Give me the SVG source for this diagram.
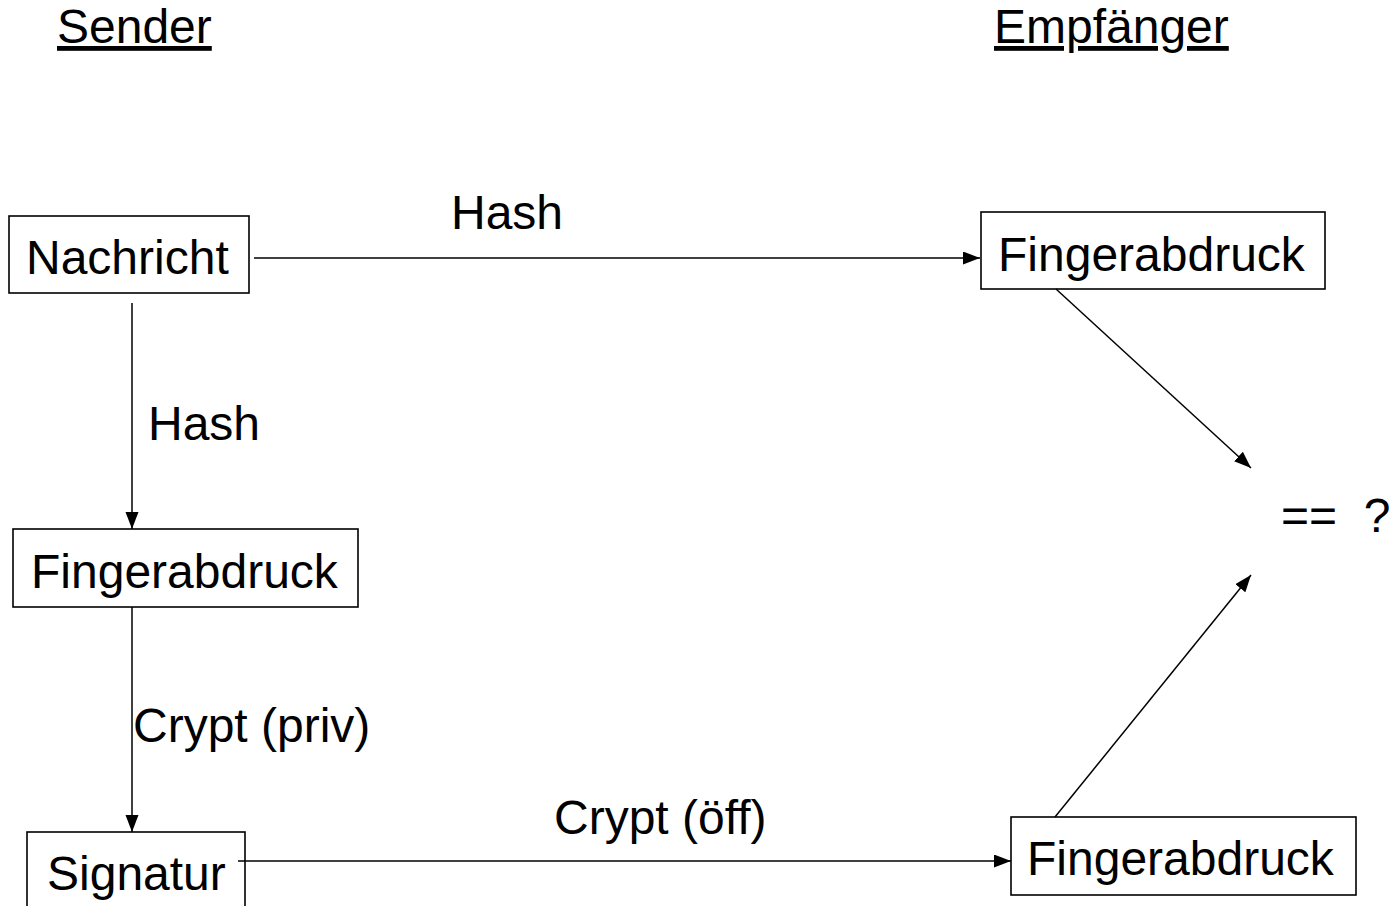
<svg xmlns="http://www.w3.org/2000/svg" width="1389" height="906" viewBox="0 0 1389 906">
<style>
text{font-family:"Liberation Sans",Arial,sans-serif;font-size:48px;fill:#000}
.box{fill:#fff;stroke:#000;stroke-width:1.6}
.edge{stroke:#000;stroke-width:1.5;fill:none;marker-end:url(#ah)}
.ul{text-decoration:underline}
</style>
<defs>
<marker id="ah" markerUnits="userSpaceOnUse" markerWidth="18" markerHeight="14" refX="17" refY="6.5" orient="auto">
<path d="M0,0 L17,6.5 L0,13 Z" fill="#000"/>
</marker>
</defs>
<rect width="1389" height="906" fill="#fff"/>
<text class="ul" x="57" y="43">Sender</text>
<text class="ul" x="994" y="43">Empfänger</text>
<g id="nachricht">
<rect class="box" x="9" y="216" width="240" height="77"/>
<text x="26" y="274">Nachricht</text>
</g>
<g id="fp-recv-top">
<rect class="box" x="981" y="212" width="344" height="77"/>
<text x="998" y="271">Fingerabdruck</text>
</g>
<g id="fp-sender">
<rect class="box" x="13" y="529" width="345" height="78"/>
<text x="31" y="588">Fingerabdruck</text>
</g>
<g id="signatur">
<rect class="box" x="27" y="832" width="218" height="90"/>
<text x="47" y="890">Signatur</text>
</g>
<g id="fp-recv-bottom">
<rect class="box" x="1011" y="817" width="345" height="78"/>
<text x="1027" y="875">Fingerabdruck</text>
</g>
<g id="compare">
<text x="1281" y="532" xml:space="preserve">==  ?</text>
</g>
<g id="connectors">
<line class="edge" x1="254" y1="258" x2="980" y2="258"/>
<line class="edge" x1="132" y1="303" x2="132" y2="529"/>
<line class="edge" x1="132" y1="607" x2="132" y2="832"/>
<line class="edge" x1="238" y1="861" x2="1011" y2="861"/>
<line class="edge" x1="1056" y1="289" x2="1251" y2="468"/>
<line class="edge" x1="1055" y1="817" x2="1251" y2="575"/>
<text x="451" y="229">Hash</text>
<text x="148" y="440">Hash</text>
<text x="133" y="742">Crypt (priv)</text>
<text x="554" y="834">Crypt (öff)</text>
</g>
</svg>
